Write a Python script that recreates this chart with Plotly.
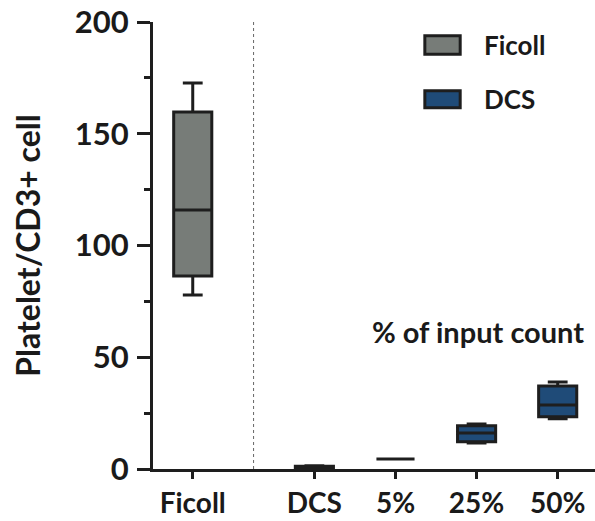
import plotly.graph_objects as go

# ---- data ----
groups = ["Ficoll", "DCS"]
categories = ["Ficoll", "DCS", "5%", "25%", "50%"]
cat_pos = [0, 1.5, 2.5, 3.5, 4.5]

ficoll_x = [0]
ficoll_low = [77.9]
ficoll_q1 = [86.4]
ficoll_med = [115.9]
ficoll_q3 = [159.7]
ficoll_high = [172.7]

dcs_x = [1.5, 2.5, 3.5, 4.5]
dcs_low = [0.2, 4.5, 11.6, 22.5]
dcs_q1 = [0.4, 4.5, 12.2, 23.4]
dcs_med = [0.8, 4.5, 16.1, 28.6]
dcs_q3 = [1.2, 4.5, 19.4, 37.1]
dcs_high = [1.4, 4.5, 20.1, 38.9]

colors = ["#777c78", "#1f4b78"]
edge = "#1e1e1e"
FONT = "Lato"

fig = go.Figure()
fig.add_trace(go.Box(
    name=groups[0], x=ficoll_x, q1=ficoll_q1, median=ficoll_med, q3=ficoll_q3,
    lowerfence=ficoll_low, upperfence=ficoll_high,
    fillcolor=colors[0], line=dict(color=edge, width=3),
    width=0.47, whiskerwidth=0.52, showlegend=False, boxpoints=False))
fig.add_trace(go.Box(
    name=groups[1], x=dcs_x, q1=dcs_q1, median=dcs_med, q3=dcs_q3,
    lowerfence=dcs_low, upperfence=dcs_high,
    fillcolor=colors[1], line=dict(color=edge, width=3),
    width=0.47, whiskerwidth=0.52, showlegend=False, boxpoints=False))

# dotted separator
fig.add_shape(type="line", xref="x", yref="paper", x0=0.75, x1=0.75, y0=0, y1=1,
              line=dict(color="#666666", width=1, dash="dot"))

# custom legend
leg_y = [(0.969, 0.928), (0.846, 0.808)]
for g, c, (ya, yb) in zip(groups, colors, leg_y):
    fig.add_shape(type="rect", xref="paper", yref="paper", x0=0.615, x1=0.695,
                  y0=yb, y1=ya, fillcolor=c, line=dict(color=edge, width=3))
    fig.add_annotation(xref="paper", yref="paper", x=0.744, y=(ya + yb) / 2,
                       text=g, showarrow=False, xanchor="left", yanchor="middle",
                       font=dict(family=FONT, size=26, color="#1a1a1a", weight="bold"))

fig.add_annotation(xref="x", yref="y", x=3.52, y=61.3, text="% of input count",
                   showarrow=False, xanchor="center", yanchor="middle",
                   font=dict(family=FONT, size=29, color="#1a1a1a", weight="bold"))

fig.update_layout(
    width=595, height=521,
    margin=dict(l=153, r=0, t=22, b=52),
    plot_bgcolor="white", paper_bgcolor="white",
    font=dict(family=FONT, color="#1a1a1a"),
    boxmode="overlay",
)
fig.update_xaxes(
    range=[-0.49, 4.96], tickvals=cat_pos, ticktext=categories, automargin=False,
    showgrid=False, zeroline=False, showline=True, linecolor=edge, linewidth=3,
    ticks="outside", ticklen=7, tickwidth=3, tickcolor=edge,
    tickfont=dict(family=FONT, size=28, color="#1a1a1a", weight="bold"),
)
fig.update_yaxes(
    range=[0, 200], dtick=50, tick0=0, automargin=False,
    showgrid=False, zeroline=False, showline=True, linecolor=edge, linewidth=3,
    ticks="outside", ticklen=13, tickwidth=3, tickcolor=edge,
    ticklabelstandoff=2,
    minor=dict(ticks="outside", ticklen=6, tickwidth=3, tickcolor=edge, dtick=25, tick0=0, showgrid=False),
    tickfont=dict(family=FONT, size=31, color="#1a1a1a", weight="bold"),
    title=dict(text="Platelet/CD3+ cell", standoff=25,
               font=dict(family=FONT, size=32, color="#1a1a1a", weight="bold")),
)

fig.write_html("out.html")
